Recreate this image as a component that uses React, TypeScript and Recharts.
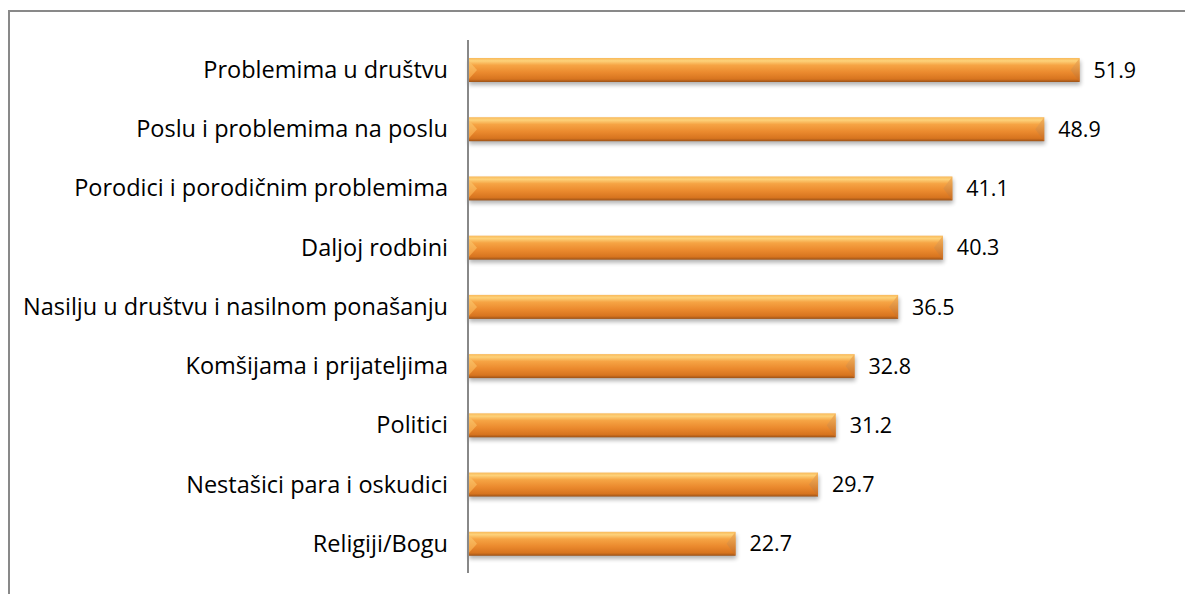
import React from 'react'
import { Bar, BarChart, LabelList, XAxis, YAxis } from 'recharts'

const categories = [
  'Problemima u društvu',
  'Poslu i problemima na poslu',
  'Porodici i porodičnim problemima',
  'Daljoj rodbini',
  'Nasilju u društvu i nasilnom ponašanju',
  'Komšijama i prijateljima',
  'Politici',
  'Nestašici para i oskudici',
  'Religiji/Bogu',
]
const values = [51.9, 48.9, 41.1, 40.3, 36.5, 32.8, 31.2, 29.7, 22.7]

const data = categories.map((name, i) => ({ name, value: values[i] }))

const FONT = '"Open Sans", sans-serif'

const TubeBar = (props: any) => {
  const { x, y, width, height } = props
  if (!width || width <= 0) return null
  const b = Math.min(9, height / 2)
  return (
    <g>
      <rect x={x + 1} y={y + 3} width={width} height={height} fill="#000" opacity={0.3} filter="url(#barShadow)" />
      <rect x={x} y={y} width={width} height={height} fill="url(#barGrad)" />
      <polygon points={`${x},${y + 2} ${x + b},${y + height / 2} ${x},${y + height - 2}`} fill="url(#leftCap)" />
      <polygon points={`${x + width},${y} ${x + width - b},${y + height / 2} ${x + width},${y + height}`} fill="url(#rightCap)" />
    </g>
  )
}

const App = () => {
  return (
    <div style={{ marginTop: 2, width: 1183, height: 582, borderTop: '2px solid #898989', borderLeft: '2px solid #898989' }}>
      <BarChart
        width={1183}
        height={582}
        data={data}
        layout="vertical"
        barCategoryGap={0}
        margin={{ top: 28, right: 18, bottom: 21, left: 0 }}
      >
        <defs>
          <linearGradient id="barGrad" x1="0" y1="0" x2="0" y2="1">
            <stop offset="0%" stopColor="#F9B95A" />
            <stop offset="12%" stopColor="#FDD27A" />
            <stop offset="30%" stopColor="#F6A444" />
            <stop offset="60%" stopColor="#EB8A2E" />
            <stop offset="88%" stopColor="#D7741F" />
            <stop offset="100%" stopColor="#9C5217" />
          </linearGradient>
          <linearGradient id="leftCap" x1="0" y1="0" x2="0" y2="1">
            <stop offset="0%" stopColor="#FBC56A" />
            <stop offset="100%" stopColor="#F29A3C" />
          </linearGradient>
          <linearGradient id="rightCap" x1="0" y1="0" x2="0" y2="1">
            <stop offset="0%" stopColor="#F5B660" />
            <stop offset="100%" stopColor="#C9691E" />
          </linearGradient>
          <filter id="barShadow" x="-5%" y="-50%" width="110%" height="200%">
            <feGaussianBlur stdDeviation="2" />
          </filter>
        </defs>
        <XAxis type="number" domain={[0, 60]} hide />
        <YAxis
          type="category"
          dataKey="name"
          width={458}
          axisLine={{ stroke: '#888888', strokeWidth: 2 }}
          tickLine={false}
          tickMargin={14}
          tick={{ fill: '#000000', fontSize: 23.5, fontFamily: FONT }}
          interval={0}
        />
        <Bar dataKey="value" barSize={24} shape={<TubeBar />} isAnimationActive={false}>
          <LabelList dataKey="value" position="right" offset={14} fill="#000000" fontSize={21.5} fontFamily={FONT} formatter={(v: any) => Number(v).toFixed(1)} />
        </Bar>
      </BarChart>
    </div>
  )
}

export default App
